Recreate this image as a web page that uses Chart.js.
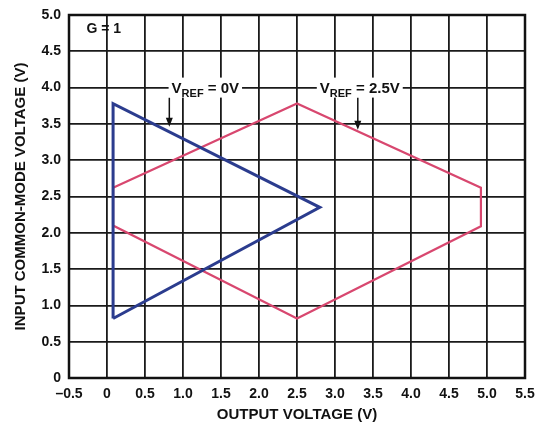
<!DOCTYPE html>
<html>
<head>
<meta charset="utf-8">
<script src="https://cdn.jsdelivr.net/npm/chart.js@4.4.1/dist/chart.umd.min.js"></script>
<style>
  html, body { margin: 0; padding: 0; background: #fff; }
  #wrap { width: 540px; height: 428px; }
</style>
</head>
<body>
<div id="wrap"><canvas id="chart" width="540" height="428"></canvas></div>
<script>
// V_REF = 0V triangle (output voltage, common-mode voltage)
const vref0X = [0.08, 0.08, 2.80, 0.08];
const vref0Y = [0.82, 3.78, 2.35, 0.82];

// V_REF = 2.5V hexagon
const vref25X = [0.08, 2.50, 4.92, 4.92, 2.50, 0.08, 0.08];
const vref25Y = [2.62, 3.78, 2.62, 2.09, 0.82, 2.10, 2.62];

// tick labels
const xTicks = ['–0.5', '0', '0.5', '1.0', '1.5', '2.0', '2.5', '3.0', '3.5', '4.0', '4.5', '5.0', '5.5'];
const yTicks = ['0', '0.5', '1.0', '1.5', '2.0', '2.5', '3.0', '3.5', '4.0', '4.5', '5.0'];

const FONT = 'Arial, "Liberation Sans", sans-serif';
const BLUE = '#2b3c8e';
const PINK = '#d8476f';

function toPoints(xs, ys) {
  return xs.map((x, i) => ({ x: x, y: ys[i] }));
}

// Frame, "G = 1" and the two V_REF callouts
const notes = {
  id: 'notes',
  afterDatasetsDraw(chart) {
    const ctx = chart.ctx;
    const xs = chart.scales.x, ys = chart.scales.y;
    const a = chart.chartArea;
    ctx.save();
    ctx.strokeStyle = '#111';
    ctx.lineWidth = 2.5;
    ctx.strokeRect(a.left, a.top, a.right - a.left, a.bottom - a.top);

    ctx.fillStyle = '#111';
    ctx.font = 'bold 14px ' + FONT;
    ctx.textBaseline = 'middle';
    ctx.textAlign = 'left';
    ctx.fillText('G = 1', xs.getPixelForValue(-0.27), ys.getPixelForValue(4.8));

    function label(xv, yv, tail, ax, ay1, ay2) {
      const x0 = xs.getPixelForValue(xv);
      const y0 = ys.getPixelForValue(yv);
      ctx.font = 'bold 15px ' + FONT;
      const w1 = ctx.measureText('V').width;
      ctx.font = 'bold 11px ' + FONT;
      const w2 = ctx.measureText('REF').width;
      ctx.font = 'bold 15px ' + FONT;
      const w3 = ctx.measureText(tail).width;
      const w = w1 + w2 + w3;
      ctx.fillStyle = '#fff';
      ctx.fillRect(x0 - 3, y0 - 10, w + 6, 20);
      ctx.fillStyle = '#111';
      ctx.textAlign = 'left';
      ctx.textBaseline = 'alphabetic';
      ctx.fillText('V', x0, y0 + 5);
      ctx.font = 'bold 11px ' + FONT;
      ctx.fillText('REF', x0 + w1, y0 + 9);
      ctx.font = 'bold 15px ' + FONT;
      ctx.fillText(tail, x0 + w1 + w2, y0 + 5);

      // arrow
      const px = xs.getPixelForValue(ax);
      const p1 = ys.getPixelForValue(ay1);
      const p2 = ys.getPixelForValue(ay2);
      ctx.strokeStyle = '#111';
      ctx.lineWidth = 1.5;
      ctx.beginPath();
      ctx.moveTo(px, p1);
      ctx.lineTo(px, p2 - 6);
      ctx.stroke();
      ctx.beginPath();
      ctx.moveTo(px - 3.5, p2 - 9);
      ctx.lineTo(px + 3.5, p2 - 9);
      ctx.lineTo(px, p2);
      ctx.closePath();
      ctx.fill();
    }
    label(0.85, 4.0, ' = 0V', 0.82, 3.86, 3.46);
    label(2.80, 4.0, ' = 2.5V', 3.30, 3.86, 3.42);
    ctx.restore();
  }
};

new Chart(document.getElementById('chart'), {
  type: 'scatter',
  data: {
    datasets: [
      {
        label: 'VREF = 0V',
        data: toPoints(vref0X, vref0Y),
        showLine: true,
        borderColor: BLUE,
        borderWidth: 3,
        pointRadius: 0,
        tension: 0
      },
      {
        label: 'VREF = 2.5V',
        data: toPoints(vref25X, vref25Y),
        showLine: true,
        borderColor: PINK,
        borderWidth: 2.2,
        pointRadius: 0,
        tension: 0
      }
    ]
  },
  options: {
    responsive: false,
    animation: false,
    layout: { padding: { top: 15, right: 15, left: 0, bottom: 0 } },
    plugins: { legend: { display: false }, tooltip: { enabled: false } },
    scales: {
      x: {
        type: 'linear',
        min: -0.5,
        max: 5.5,
        grid: { color: '#1a1a1a', lineWidth: 1.8, drawTicks: false },
        border: { display: false },
        ticks: {
          stepSize: 0.5,
          padding: 8,
          color: '#111',
          font: { family: FONT, size: 14, weight: 'bold' },
          callback: (v, i) => xTicks[i]
        },
        title: {
          display: true,
          text: 'OUTPUT VOLTAGE (V)',
          color: '#111',
          font: { family: FONT, size: 15, weight: 'bold' },
          padding: { top: 2 }
        },
        afterFit(scale) {
          scale.height = 50;
          scale.paddingLeft = 0;
          scale.paddingRight = 0;
        }
      },
      y: {
        type: 'linear',
        min: 0,
        max: 5,
        grid: { color: '#1a1a1a', lineWidth: 1.8, drawTicks: false },
        border: { display: false },
        ticks: {
          stepSize: 0.5,
          padding: 8,
          color: '#111',
          font: { family: FONT, size: 14, weight: 'bold' },
          callback: (v, i) => yTicks[i]
        },
        title: {
          display: true,
          text: 'INPUT COMMON-MODE VOLTAGE (V)',
          color: '#111',
          font: { family: FONT, size: 15, weight: 'bold' },
          padding: { top: 12, bottom: 0 }
        },
        afterFit(scale) {
          scale.width = 69;
          scale.paddingTop = 0;
          scale.paddingBottom = 0;
        }
      }
    }
  },
  plugins: [notes]
});
</script>
</body>
</html>
